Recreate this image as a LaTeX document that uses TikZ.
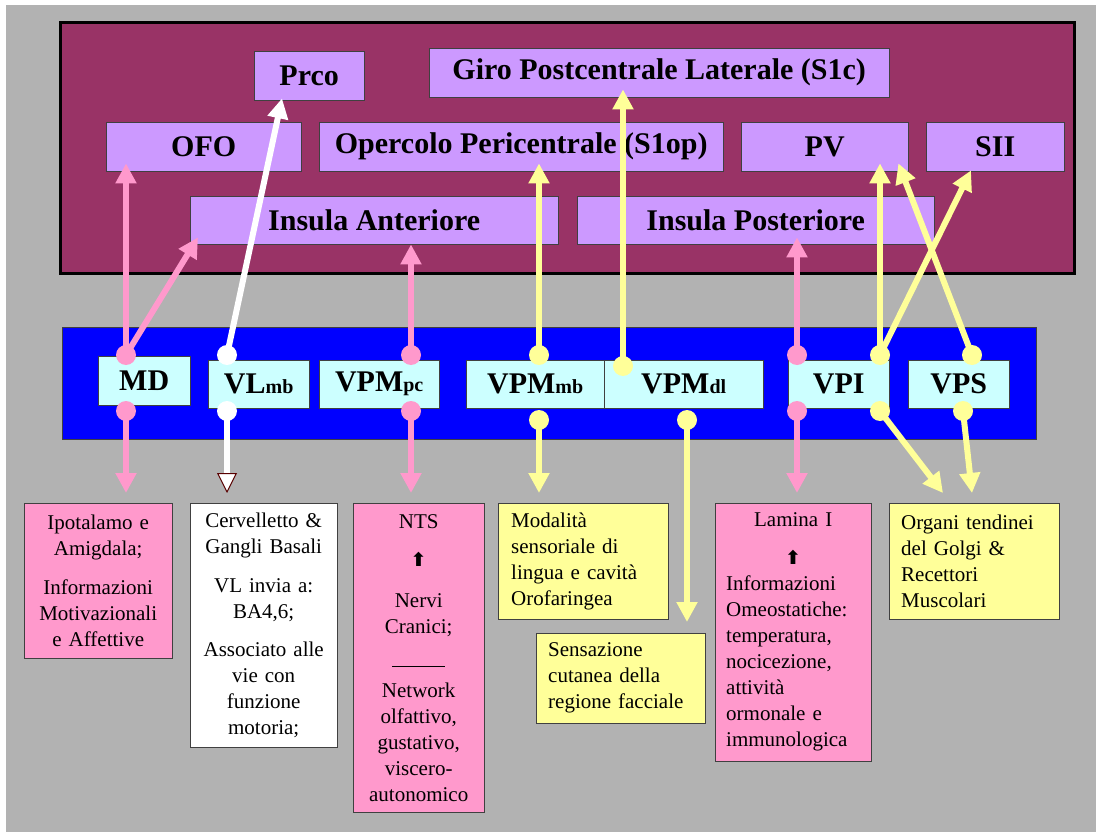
\documentclass[tikz,border=0pt]{standalone}
\usepackage{fontspec}
\setmainfont{Liberation Serif}
\newfontfamily\symfont{DejaVu Sans}
\usetikzlibrary{arrows.meta,calc}
\definecolor{greybg}{HTML}{B2B2B2}
\definecolor{cortexred}{HTML}{993366}
\definecolor{lilac}{HTML}{CC99FF}
\definecolor{thalblue}{HTML}{0000FF}
\definecolor{paleaqua}{HTML}{CCFFFF}
\definecolor{rosa}{HTML}{FF99CC}
\definecolor{giallo}{HTML}{FFFF99}
\tikzset{>={Triangle[width=20pt,length=20pt]}}
\tikzset{
  area/.style={anchor=north west,inner sep=0pt,draw=black!75},
  cortex/.style={area,fill=lilac,font=\bfseries\fontsize{30}{36}\selectfont},
  nucleus/.style={area,fill=paleaqua,font=\bfseries\fontsize{30}{36}\selectfont},
  target/.style={area,fill=#1,font=\fontsize{21}{26}\selectfont},
  dot/.style={circle,fill=#1,inner sep=0pt,minimum size=20pt},
  fibre/.style={draw=#1,line width=6pt,->}
}
\newcommand\nsub[1]{{\fontsize{20}{24}\selectfont #1}}
\newcommand\upsym{{\symfont\bfseries\fontsize{19}{26}\selectfont ⬆}}

\begin{document}
\begin{tikzpicture}[x=1pt,y=-1pt]

\useasboundingbox (0,0) rectangle (1096,832);
\fill[greybg] (6,5) rectangle (1096,832);

% corteccia
\draw[fill=cortexred,line width=3pt] (60,23) rectangle (1074,273);
\node[cortex,minimum width=110,minimum height=49] (prco) at (254,51) {Prco};
\node[cortex,minimum width=460,minimum height=49] (giro) at (429,48) {Giro Postcentrale Laterale (S1c)};
\node[cortex,minimum width=195,minimum height=49] (ofo) at (106,122) {OFO};
\node[cortex,minimum width=404,minimum height=49] (oper) at (319,122) {Opercolo Pericentrale (S1op)};
\node[cortex,minimum width=167,minimum height=49] (pv) at (741,122) {PV};
\node[cortex,minimum width=138,minimum height=49] (sii) at (926,122) {SII};
\node[cortex,minimum width=368,minimum height=48] (insA) at (190,196) {Insula Anteriore};
\node[cortex,minimum width=357,minimum height=48] (insP) at (577,196) {Insula Posteriore};

% talamo
\draw[fill=thalblue,draw=black!75] (62,327) rectangle (1036,439);
\node[nucleus,minimum width=92,minimum height=49] (md) at (98,356) {MD};
\node[nucleus,minimum width=101,minimum height=48] (vl) at (208,360) {VL\nsub{mb}};
\node[nucleus,minimum width=120,minimum height=48] (vpmpc) at (319,360) {VPM\nsub{pc}};
\node[nucleus,minimum width=138,minimum height=48] (vpmmb) at (466,360) {VPM\nsub{mb}};
\node[nucleus,minimum width=159,minimum height=48] (vpmdl) at (604,360) {VPM\nsub{dl}};
\node[nucleus,minimum width=101,minimum height=48] (vpi) at (788,360) {VPI};
\node[nucleus,minimum width=101,minimum height=48] (vps) at (908,360) {VPS};

% bersagli
\node[target=rosa,minimum width=148,minimum height=155,text width=148,align=center] (ipo) at (24,503)
  {Ipotalamo e\\Amigdala;\\[13pt]Informazioni\\Motivazionali\\e Affettive};
\node[target=white,minimum width=147,minimum height=244,text width=147,align=center] (cerv) at (190,503)
  {Cervelletto \&\\Gangli Basali\\[13pt]VL invia a:\\BA4,6;\\[12pt]Associato alle\\vie con\\funzione\\motoria;};
\node[target=rosa,minimum width=131,minimum height=309,text width=131,align=center] (nts) at (353,503)
  {NTS\\[12pt]\upsym\\[15pt]Nervi\\Cranici;\\[8pt]\rule{53pt}{1pt}\\[4pt]Network\\olfattivo,\\gustativo,\\viscero-\\autonomico};
\node[target=giallo,minimum width=170,minimum height=116,inner xsep=13pt,text width=144,align=left] (moda) at (498,503)
  {Modalità\\sensoriale di\\lingua e cavità\\Orofaringea};
\node[target=giallo,minimum width=169,minimum height=90,inner xsep=12pt,text width=145,align=left] (sens) at (536,633)
  {Sensazione\\cutanea della\\regione facciale};
\node[target=rosa,minimum width=156,minimum height=258,inner xsep=11pt,text width=134,align=left] (lam) at (715,503)
  {\makebox[\linewidth]{Lamina I}\\[12pt]\makebox[\linewidth]{\upsym}\\Informazioni\\Omeostatiche:\\temperatura,\\nocicezione,\\attività\\ormonale e\\immunologica};
\node[target=giallo,minimum width=170,minimum height=116,inner xsep=12pt,text width=146,align=left] (organi) at (889,503)
  {Organi tendinei\\del Golgi \&\\Recettori\\Muscolari};

% punti di partenza
\node[dot=rosa] (mdT) at (126,355) {};
\node[dot=rosa] (mdB) at (126,411) {};
\node[dot=white] (vlT) at (227,355) {};
\node[dot=white] (vlB) at (227,411) {};
\node[dot=rosa] (vpmpcT) at (411,355) {};
\node[dot=rosa] (vpmpcB) at (411,411) {};
\node[dot=giallo] (vpmmbT) at (539,355) {};
\node[dot=giallo] (vpmmbB) at (539,420) {};
\node[dot=giallo] (vpmdlT) at (623,366) {};
\node[dot=giallo] (vpmdlB) at (687,420) {};
\node[dot=rosa] (vpipT) at (797,355) {};
\node[dot=rosa] (vpipB) at (797,411) {};
\node[dot=giallo] (vpiyT) at (880,355) {};
\node[dot=giallo] (vpiyB) at (880,411) {};
\node[dot=giallo] (vpsT) at (972,355) {};
\node[dot=giallo] (vpsB) at (963,411) {};

% proiezioni ascendenti
\draw[fibre=rosa] (mdT.center) -- ($(ofo.south west)+(20,-8)$);
\draw[fibre=rosa] (mdT.center) -- ($(insA.south west)+(8,-7)$);
\draw[fibre=white] (vlT.center) -- ($(prco.south west)+(28,-2)$);
\draw[fibre=rosa] (vpmpcT.center) -- (vpmpcT |- insA.south);
\draw[fibre=giallo] (vpmmbT.center) -- ($(vpmmbT |- oper.south)+(0,-8)$);
\draw[fibre=giallo] (vpmdlT.center) -- ($(vpmdlT |- giro.south)+(0,-8)$);
\draw[fibre=rosa] (vpipT.center) -- ($(vpipT |- insP.south)+(0,-7)$);
\draw[fibre=giallo] (vpiyT.center) -- ($(vpiyT |- pv.south)+(0,-8)$);
\draw[fibre=giallo] (vpiyT.center) -- ($(sii.south west)+(45,-1)$);
\draw[fibre=giallo] (vpsT.center) -- ($(pv.south east)+(-10,-8)$);

% proiezioni discendenti
\draw[fibre=rosa] (mdB.center) -- ($(mdB |- ipo.north)+(0,-10)$);
\draw[white,line width=6pt,-{Triangle[width=20pt,length=20pt,color=red!35!black,fill=white,line width=1pt]}]
  (vlB.center) -- ($(vlB |- cerv.north)+(0,-10)$);
\draw[fibre=rosa] (vpmpcB.center) -- ($(vpmpcB |- nts.north)+(0,-10)$);
\draw[fibre=giallo] (vpmmbB.center) -- ($(vpmmbB |- moda.north)+(0,-10)$);
\draw[fibre=giallo] (vpmdlB.center) -- ($(vpmdlB |- sens.north)+(0,-11)$);
\draw[fibre=rosa] (vpipB.center) -- ($(vpipB |- lam.north)+(0,-10)$);
\draw[fibre=giallo] (vpiyB.center) -- ($(organi.north west)+(54,-10)$);
\draw[fibre=giallo] (vpsB.center) -- ($(organi.north west)+(83,-10)$);

\end{tikzpicture}
\end{document}
